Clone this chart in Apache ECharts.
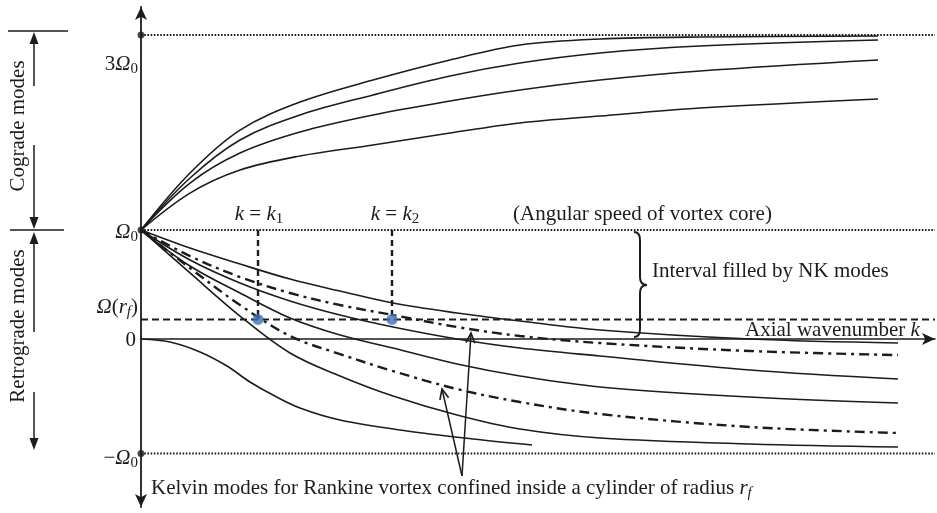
<!DOCTYPE html>
<html><head><meta charset="utf-8">
<script src="https://cdn.jsdelivr.net/npm/echarts@6/dist/echarts.min.js"></script>
<style>html,body{margin:0;padding:0;background:#fff}#c{width:937px;height:513px}</style>
</head><body><div id="c"></div>
<script>
// ---- data (k: axial wavenumber, value: frequency in units of Omega0) ----
const kCo = [0, 0.49, 0.99, 1.59, 2.32, 3.09, 3.79, 4.59, 5.59, 7.37];
const coA = [1.0, 1.523, 1.917, 2.174, 2.376, 2.560, 2.697, 2.752, 2.771, 2.780];
const coB = [1.0, 1.477, 1.826, 2.055, 2.239, 2.413, 2.532, 2.624, 2.688, 2.743];
const coC = [1.0, 1.431, 1.706, 1.899, 2.055, 2.183, 2.284, 2.376, 2.459, 2.560];
const coD = [1.0, 1.339, 1.550, 1.679, 1.780, 1.890, 1.982, 2.046, 2.119, 2.202];

const kRetro = [0, 0.49, 0.99, 1.49, 1.99, 2.52, 3.16, 3.79, 4.59, 6.09, 7.57];
const retro1 = [1.0, 0.835, 0.688, 0.550, 0.440, 0.330, 0.239, 0.165, 0.083, 0.0, -0.037];
const dashDot1 = [1.0, 0.761, 0.569, 0.422, 0.312, 0.220, 0.110, 0.028, -0.037, -0.110, -0.147];
const retro2 = [1.0, 0.725, 0.514, 0.349, 0.220, 0.110, 0.0, -0.083, -0.156, -0.284, -0.367];
const retro3 = [1.0, 0.670, 0.422, 0.193, 0.037, -0.083, -0.229, -0.339, -0.440, -0.532, -0.587];
const dashDot2 = [1.0, 0.651, 0.312, 0.028, -0.138, -0.294, -0.459, -0.578, -0.688, -0.807, -0.862];
const retro4 = [1.0, 0.606, 0.211, -0.128, -0.339, -0.523, -0.697, -0.826, -0.908, -0.963, -0.991];

const kLow = [0, 0.29, 0.59, 0.86, 1.09, 1.32, 1.59, 1.99, 2.66, 3.32, 3.91];
const retro5 = [0, -0.028, -0.119, -0.248, -0.394, -0.514, -0.633, -0.743, -0.844, -0.917, -0.972];

const levelValues = [2.79, 1.0, -1.05];   // dotted levels: top, Omega0, -Omega0
const omegaRf = 0.18;                      // Omega(r_f) dashed level
const kMarks = [1.17, 2.51];               // k1, k2
const kMax = 7.94, yMin = -1.541, yMax = 3.046;

// ---- styling ----
const ink = '#1c1c1c';
const FF = '"Liberation Serif","DejaVu Serif",serif';
const FS = 21;
const pairs = (ks, vs) => ks.map((k, i) => [k, vs[i]]);
const solid = {color: ink, width: 1.6};
const dashDot = {color: ink, width: 2.4, type: [10, 5, 3, 5]};
function curve(data, style) {
  return {type: 'line', data, symbol: 'none', smooth: 0.35, lineStyle: style, silent: true, z: 3};
}
const series = [
  curve(pairs(kCo, coA), solid), curve(pairs(kCo, coB), solid),
  curve(pairs(kCo, coC), solid), curve(pairs(kCo, coD), solid),
  curve(pairs(kRetro, retro1), solid), curve(pairs(kRetro, dashDot1), dashDot),
  curve(pairs(kRetro, retro2), solid), curve(pairs(kRetro, retro3), solid),
  curve(pairs(kRetro, dashDot2), dashDot), curve(pairs(kRetro, retro4), solid),
  curve(pairs(kLow, retro5), solid)
];
levelValues.forEach(v => series.push({type: 'line', data: [[0, v], [kMax, v]], symbol: 'none', silent: true,
  lineStyle: {color: ink, width: 2, type: [1.6, 1.6]}, z: 2}));
series.push({type: 'line', data: [[0, omegaRf], [kMax, omegaRf]], symbol: 'none', silent: true,
  lineStyle: {color: ink, width: 2, type: [7, 4]}, z: 2});
kMarks.forEach(k => series.push({type: 'line', data: [[k, 1.0], [k, omegaRf]], symbol: 'none', silent: true,
  lineStyle: {color: ink, width: 2.4, type: [6, 4]}, z: 2}));
series.push({type: 'scatter', data: kMarks.map(k => [k, omegaRf]), symbolSize: 11, clip: false, silent: true,
  itemStyle: {color: '#3f6fb7'}, z: 5});
series.push({type: 'scatter', data: levelValues.map(v => [0, v]), symbolSize: 7, clip: false, silent: true,
  itemStyle: {color: ink}, z: 5});

// ---- annotations ----
const rich = {
  n: {fontFamily: FF, fontSize: FS, color: ink},
  i: {fontFamily: FF, fontSize: FS, fontStyle: 'italic', color: ink},
  s: {fontFamily: FF, fontSize: 15, color: ink, padding: [10, 0, 0, 0]},
  si: {fontFamily: FF, fontSize: 15, fontStyle: 'italic', color: ink, padding: [10, 0, 0, 0]}
};
function txt(text, x, y, align, extra) {
  return Object.assign({type: 'text', x, y, silent: true, z: 10,
    style: {text, rich, align: align || 'left', verticalAlign: 'middle', fill: ink, font: FS + 'px ' + FF}}, extra || {});
}
function seg(x1, y1, x2, y2, w) {
  return {type: 'line', silent: true, z: 10, shape: {x1, y1, x2, y2}, style: {stroke: ink, lineWidth: w || 1.5}};
}
function bez(x1, y1, cpx1, cpy1, x2, y2) {
  return {type: 'bezierCurve', silent: true, z: 10, shape: {x1, y1, cpx1, cpy1, x2, y2},
    style: {stroke: ink, lineWidth: 2, fill: null}};
}
function tri(x, y, dir) { // filled arrowhead, tip at (x,y)
  const d = dir === 'up' ? 1 : -1;
  return {type: 'polygon', silent: true, z: 10, shape: {points: [[x, y], [x - 4.5, y + 12 * d], [x + 4.5, y + 12 * d]]},
    style: {fill: ink}};
}
function openArrow(x1, y1, x2, y2) { // line from (x1,y1) to tip (x2,y2) with open head
  const a = Math.atan2(y2 - y1, x2 - x1), L = 11, s = 0.42;
  return [seg(x1, y1, x2, y2, 1.5),
    {type: 'polyline', silent: true, z: 10, shape: {points: [
      [x2 - L * Math.cos(a - s), y2 - L * Math.sin(a - s)], [x2, y2], [x2 - L * Math.cos(a + s), y2 - L * Math.sin(a + s)]]},
      style: {stroke: ink, lineWidth: 1.6, fill: null}}];
}
const graphic = [
  txt('{n|3}{i|Ω}{s|0}', 138, 64, 'right'),
  txt('{i|Ω}{s|0}', 138, 232, 'right'),
  txt('{i|Ω}{n|(}{i|r}{si|f}{n|)}', 138, 307, 'right'),
  txt('{n|0}', 136, 340, 'right'),
  txt('{n|−}{i|Ω}{s|0}', 138, 458, 'right'),
  txt('{i|k} {n|=} {i|k}{s|1}', 259, 214, 'center'),
  txt('{i|k} {n|=} {i|k}{s|2}', 395, 214, 'center'),
  txt('{n|(Angular speed of vortex core)}', 513, 214),
  txt('{n|Interval filled by NK modes}', 652, 271),
  txt('{n|Axial wavenumber }{i|k}', 745, 330),
  txt('{n|Kelvin modes for Rankine vortex confined inside a cylinder of radius }{i|r}{si|f}', 151, 488),
  {type: 'text', x: 18, y: 126, rotation: Math.PI / 2, silent: true, z: 10,
    style: {text: 'Cograde modes', font: '21px ' + FF, fill: ink, align: 'center', verticalAlign: 'middle'}},
  {type: 'text', x: 18, y: 326, rotation: Math.PI / 2, silent: true, z: 10,
    style: {text: 'Retrograde modes', font: '21px ' + FF, fill: ink, align: 'center', verticalAlign: 'middle'}},
  // brace
  bez(634, 232, 640, 232, 640, 240), seg(640, 240, 640, 277, 2), bez(640, 277, 640, 285, 647, 285),
  bez(647, 285, 640, 285, 640, 293), seg(640, 293, 640, 329, 2), bez(640, 329, 640, 337, 634, 337),
  // left side markers
  seg(8, 31, 68, 31), seg(10, 230, 64, 230),
  seg(34, 40, 34, 86), tri(34, 32, 'up'),
  seg(34, 145, 34, 220), tri(34, 229, 'down'),
  seg(34, 240, 34, 332), tri(34, 232, 'up'),
  seg(34, 392, 34, 442), tri(34, 450, 'down')
].concat(openArrow(462, 476, 442, 389), openArrow(462, 476, 471, 333));

const chart = echarts.init(document.getElementById('c'));
chart.setOption({
  animation: false,
  backgroundColor: '#ffffff',
  grid: {left: 141, right: 2, top: 7, bottom: 6, containLabel: false},
  xAxis: {type: 'value', min: 0, max: kMax, splitLine: {show: false}, axisTick: {show: false},
    axisLabel: {show: false},
    axisLine: {show: true, onZero: true, symbol: ['none', 'arrow'], symbolSize: [9, 13],
      lineStyle: {color: ink, width: 1.6}}},
  yAxis: {type: 'value', min: yMin, max: yMax, splitLine: {show: false}, axisTick: {show: false},
    axisLabel: {show: false},
    axisLine: {show: true, symbol: ['arrow', 'arrow'], symbolSize: [9, 13], lineStyle: {color: ink, width: 1.8}}},
  series,
  graphic
});
</script></body></html>
